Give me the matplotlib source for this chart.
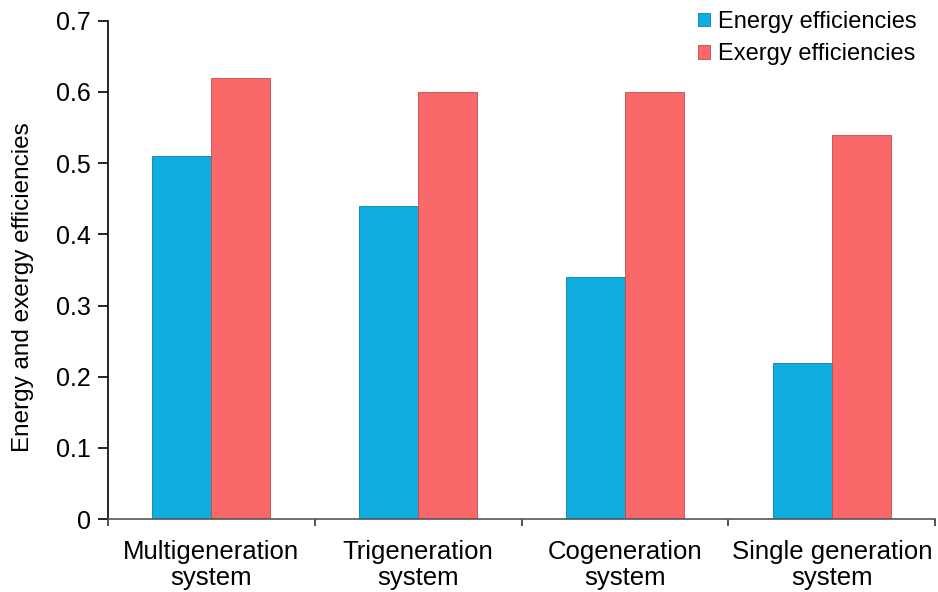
import matplotlib.pyplot as plt
import numpy as np

plt.rcParams['font.family'] = ['Liberation Sans', 'DejaVu Sans']

categories = ['Multigeneration\nsystem', 'Trigeneration\nsystem',
              'Cogeneration\nsystem', 'Single generation\nsystem']
energy = [0.51, 0.44, 0.34, 0.22]
exergy = [0.62, 0.60, 0.60, 0.54]

fig = plt.figure(figsize=(9.38, 5.92), dpi=100)
ax = fig.add_axes([0.115, 0.123, 0.882, 0.842])

x = np.arange(len(categories))
w = 0.285
ax.bar(x - w / 2, energy, w, color='#0fade0', edgecolor='#0a7fa8', linewidth=0.6,
       label='Energy efficiencies')
ax.bar(x + w / 2, exergy, w, color='#f9696a', edgecolor='#c44a4a', linewidth=0.6,
       label='Exergy efficiencies')

# Axis limits and ticks
ax.set_xlim(-0.5, len(categories) - 0.5)
ax.set_ylim(0, 0.7)
ax.set_yticks(np.arange(0, 0.71, 0.1))
ax.set_yticklabels(['0'] + [f'{v:.1f}' for v in np.arange(0.1, 0.71, 0.1)])
ax.set_xticks(np.arange(-0.5, len(categories), 1.0))
ax.set_xticklabels([])
ax.set_xticks(x, minor=True)
ax.set_xticklabels(categories, minor=True, fontsize=18.5, linespacing=1.12)
ax.tick_params(axis='x', which='minor', length=0, pad=15)
ax.tick_params(axis='x', which='major', length=5, width=1.2, color='#333333')
ax.tick_params(axis='y', length=7, width=1.2, labelsize=18, pad=5)

for s in ['top', 'right']:
    ax.spines[s].set_visible(False)
ax.spines['left'].set_linewidth(1.2)
ax.spines['bottom'].set_linewidth(1.2)
ax.spines['bottom'].set_color('#555555')

ax.set_ylabel('Energy and exergy efficiencies', fontsize=17.5)
ax.yaxis.set_label_coords(-0.089, 0.466)

ax.legend(loc='upper right', bbox_to_anchor=(0.977, 0.982), bbox_transform=fig.transFigure,
          frameon=False, fontsize=17, borderpad=0, borderaxespad=0,
          handlelength=0.5, handleheight=0.5, handletextpad=0.35, labelspacing=0.45)

fig.savefig('out.png', dpi=100)
